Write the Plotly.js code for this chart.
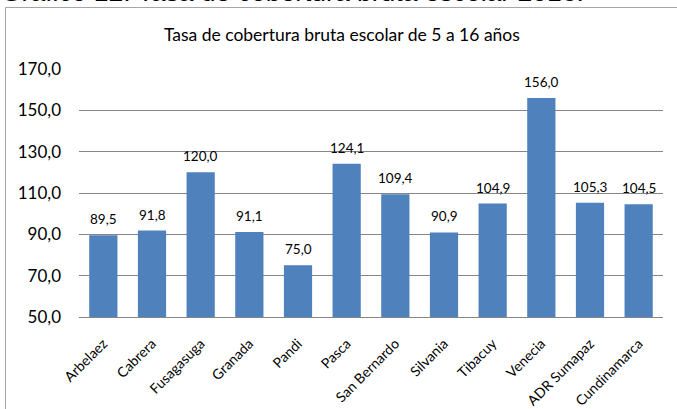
<!DOCTYPE html>
<html><head><meta charset="utf-8">
<script src="https://cdn.plot.ly/plotly-3.0.1.min.js"></script>
<style>html,body{margin:0;padding:0;background:#fff;}</style>
</head><body>
<div id="chart" style="width:677px;height:409px;"></div>
<script>
var categories = ["Arbelaez","Cabrera","Fusagasuga","Granada","Pandi","Pasca","San Bernardo","Silvania","Tibacuy","Venecia","ADR Sumapaz","Cundinamarca"];
var values = [89.5, 91.8, 120.0, 91.1, 75.0, 124.1, 109.4, 90.9, 104.9, 156.0, 105.3, 104.5];
var yTicks = [50, 70, 90, 110, 130, 150, 170];

var W = 677, H = 409, mL = 79, mR = 14, mT = 69, mB = 92;
var pw = W - mL - mR, ph = H - mT - mB;
function px(x){ return (x - mL) / pw; }
function py(y){ return (H - mB - y) / ph; }

var font = "Lato, 'Open Sans', sans-serif";

var trace = {
  type: 'bar', x: categories, y: values,
  marker: {color: '#4F81BD'},
  hoverinfo: 'none'
};

var labelAnns = categories.map(function(c, i){
  return {x: c, y: values[i], xref: 'x', yref: 'y', text: values[i].toFixed(1).replace('.', ','),
    showarrow: false, yanchor: 'middle', xanchor: 'center', yshift: 16,
    font: {family: font, size: 13.5, color: '#000'}};
});

var layout = {
  width: W, height: H,
  margin: {l: mL, r: mR, t: mT, b: mB, pad: 0},
  separators: ',.',
  paper_bgcolor: '#fff', plot_bgcolor: '#fff',
  bargap: 0.42,
  showlegend: false,
  title: {text: 'Tasa de cobertura bruta escolar de 5 a 16 años', x: 0.505, xanchor: 'center', xref: 'container', y: 1 - 35/H, yanchor: 'middle', yref: 'container', font: {family: font, size: 17.5, color: '#000'}},
  xaxis: {type: 'category', tickangle: -45, showgrid: false, showline: true, linecolor: '#868686', linewidth: 1, ticks: '', ticklabelstandoff: 12, tickfont: {family: font, size: 14, color: '#000'}, fixedrange: true},
  yaxis: {range: [50, 170], tickvals: yTicks, tickformat: '.1f', showgrid: true, gridcolor: '#868686', gridwidth: 1, zeroline: false, showline: false, ticks: '', ticklabelstandoff: 17, tickfont: {family: font, size: 17, color: '#000'}, fixedrange: true},
  shapes: [
    {type: 'line', xref: 'paper', yref: 'paper', x0: px(5.5), x1: px(5.5), y0: py(7.5), y1: py(409), line: {color: '#A6A6A6', width: 1}},
    {type: 'line', xref: 'paper', yref: 'paper', x0: px(5.5), x1: px(677), y0: py(7.5), y1: py(7.5), line: {color: '#A6A6A6', width: 1}}
  ],
  annotations: [
    {text: 'Gráfico 12. Tasa de cobertura bruta escolar 2016.', xref: 'paper', yref: 'paper', x: px(-1), xanchor: 'left', y: py(-8), yanchor: 'middle', showarrow: false, font: {family: 'Liberation Sans, Arial, sans-serif', size: 26.5, color: '#000'}}
  ].concat(labelAnns)
};

Plotly.newPlot('chart', [trace], layout, {displayModeBar: false, staticPlot: true});
</script>
</body></html>
